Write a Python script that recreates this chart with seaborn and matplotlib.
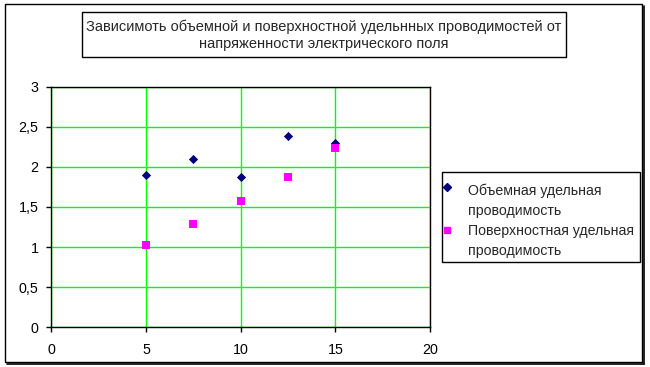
import matplotlib
matplotlib.use("Agg")
import matplotlib.pyplot as plt
from matplotlib.patches import Rectangle
from matplotlib.lines import Line2D
import seaborn as sns
import pandas as pd

x_vals = [5, 7.5, 10, 12.5, 15]
volume_vals = [1.90, 2.10, 1.88, 2.38, 2.30]
surface_vals = [1.03, 1.29, 1.57, 1.87, 2.23]
series_names = ["Объемная удельная\nпроводимость", "Поверхностная удельная\nпроводимость"]
title_text = "Зависимоть объемной и поверхностной удельнных проводимостей от\nнапряженности электрического поля"
x_ticks = [0, 5, 10, 15, 20]
y_ticks = [0, 0.5, 1, 1.5, 2, 2.5, 3]
y_tick_labels = ["0", "0,5", "1", "1,5", "2", "2,5", "3"]

df_vol = pd.DataFrame({"x": x_vals, "y": volume_vals})
df_surf = pd.DataFrame({"x": x_vals, "y": surface_vals})

sns.set_style("white")
plt.rcParams["font.family"] = ["Liberation Sans", "DejaVu Sans"]

W, H = 650, 367
fig = plt.figure(figsize=(6.5, 3.67), dpi=100)

def fx(px):
    return px / W

def fy(py):
    return 1 - py / H

ax = fig.add_axes([fx(51.3), fy(327.3), fx(430) - fx(51.3), fy(86.7) - fy(327.3)])

sns.scatterplot(data=df_vol, x="x", y="y", color="#000080", marker="D",
                s=22, linewidth=0, ax=ax, legend=False, zorder=3)
sns.scatterplot(data=df_surf, x="x", y="y", color="#FF00FF", marker="s",
                s=34, linewidth=0, ax=ax, legend=False, zorder=3)

ax.set_xlim(0, 20)
ax.set_ylim(0, 3)
ax.set_xticks(x_ticks)
ax.set_xticklabels([str(t) for t in x_ticks])
ax.set_yticks(y_ticks)
ax.set_yticklabels(y_tick_labels)
ax.set_xlabel("")
ax.set_ylabel("")
ax.grid(True, color="#00FF00", linewidth=1.0)
ax.set_axisbelow(True)
for sp in ax.spines.values():
    sp.set_visible(True)
    sp.set_color("black")
    sp.set_linewidth(1.0)
ax.tick_params(axis="both", direction="out", length=3.8, width=1, color="black",
               labelsize=10.3, labelcolor="black", left=True, bottom=True)
ax.tick_params(axis="x", pad=7.5)
ax.tick_params(axis="y", pad=5.5)

# Legend (framed box with marker + two-line label per series)
fig.patches.append(Rectangle((fx(442), fy(262)), fx(640) - fx(442), fy(172) - fy(262),
                             transform=fig.transFigure, fill=False,
                             edgecolor="black", linewidth=1.0))
leg_markers = [("D", "#000080", 4.0), ("s", "#FF00FF", 5.0)]
leg_marker_y = [187, 230]
leg_baselines = [[194.5, 214.5], [235.5, 255.0]]
for (mk, col, ms), name, my, bls in zip(leg_markers, series_names, leg_marker_y, leg_baselines):
    fig.lines.append(Line2D([fx(446.8)], [fy(my)], transform=fig.transFigure,
                            marker=mk, color=col, markersize=ms, linestyle=""))
    for line, bl in zip(name.split("\n"), bls):
        fig.text(fx(468.5), fy(bl), line, ha="left", va="baseline", fontsize=10.2)

# Title box
fig.patches.append(Rectangle((fx(82), fy(57)), fx(566) - fx(82), fy(12) - fy(57),
                             transform=fig.transFigure, fill=False,
                             edgecolor="black", linewidth=1.0))
fig.text(fx(324), fy(35.5), title_text, ha="center", va="center",
         fontsize=10.5, linespacing=1.3)

# Outer border with shadow
fig.patches.append(Rectangle((fx(5), fy(362)), fx(642) - fx(5), fy(4) - fy(362),
                             transform=fig.transFigure, fill=False,
                             edgecolor="black", linewidth=1.0))
fig.lines.append(Line2D([fx(644), fx(644)], [fy(6), fy(363.5)], transform=fig.transFigure,
                        color="black", linewidth=1.2))
fig.lines.append(Line2D([fx(7), fx(644)], [fy(363.5), fy(363.5)], transform=fig.transFigure,
                        color="black", linewidth=1.2))

fig.savefig("out.png", dpi=100)
